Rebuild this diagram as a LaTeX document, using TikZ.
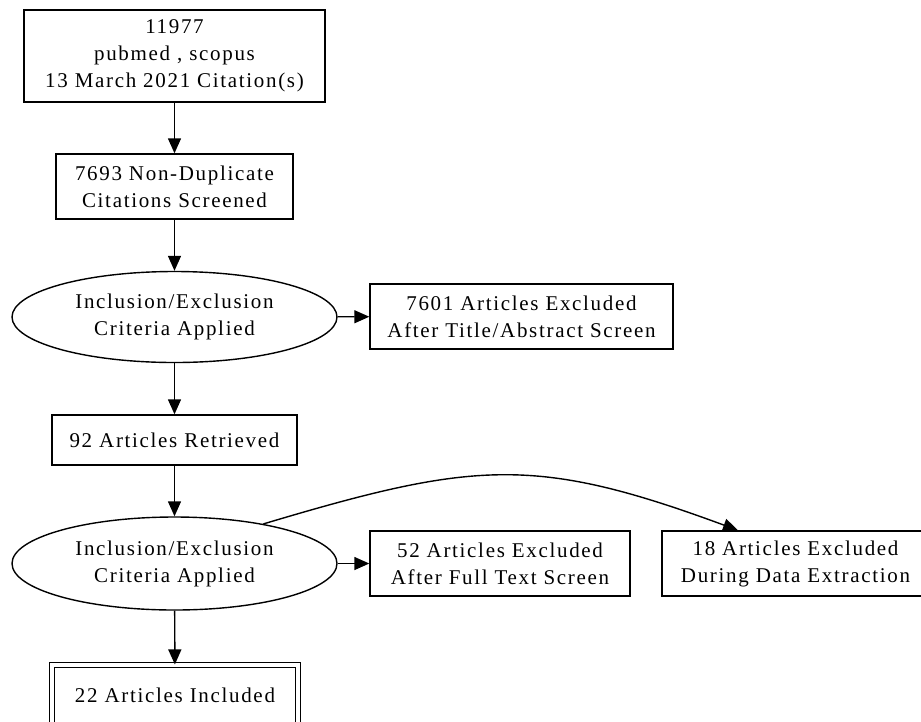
\documentclass[tikz,border=0pt]{standalone}
\usepackage{fontspec}
\setmainfont{Liberation Serif}[LetterSpace=8]
\usetikzlibrary{arrows.meta,shapes.geometric}
\begin{document}
\begin{tikzpicture}[x=1pt,y=-1pt,
  every node/.style={font=\fontsize{21}{27}\selectfont, align=center, inner sep=0pt, line width=1.4pt},
  boxnode/.style={draw, rectangle},
  ellnode/.style={draw, ellipse},
  conn/.style={line width=1.4pt, -{Triangle[length=15pt,width=13pt]}}]
\useasboundingbox (0,0) rectangle (921,721);
\node[boxnode, minimum width=301pt, minimum height=92pt] (b1) at (174.5,56) {11977\\pubmed , scopus\\13 March 2021 Citation(s)};
\node[boxnode, minimum width=237pt, minimum height=65pt] (b2) at (174.5,186.5) {7693 Non-Duplicate\\Citations Screened};
\node[ellnode, minimum width=325pt, minimum height=91pt] (e1) at (174.5,317) {Inclusion/Exclusion\\Criteria Applied};
\node[boxnode, minimum width=303pt, minimum height=65pt] (x1) at (521.5,316.5) {7601 Articles Excluded\\After Title/Abstract Screen};
\node[boxnode, minimum width=245pt, minimum height=50pt] (b3) at (174.5,440) {92 Articles Retrieved};
\node[ellnode, minimum width=325pt, minimum height=93pt] (e2) at (174.5,563.5) {Inclusion/Exclusion\\Criteria Applied};
\node[boxnode, minimum width=260pt, minimum height=65pt] (x2) at (500,563.5) {52 Articles Excluded\\After Full Text Screen};
\node[boxnode, minimum width=267pt, minimum height=65pt] (x3) at (795.5,563.5) {18 Articles Excluded\\During Data Extraction};
\node[boxnode, double, double distance=4.5pt, line width=1.1pt, minimum width=246pt, minimum height=60pt] (b4) at (175,695) {22 Articles Included};
\draw[conn] (b1) -- (b2);
\draw[conn] (b2) -- (e1);
\draw[conn] (e1) -- (x1);
\draw[conn] (e1) -- (b3);
\draw[conn] (b3) -- (e2);
\draw[conn] (e2) -- (x2);
\draw[conn] (e2) -- (b4);
\draw[conn] (e2.24) .. controls +(211,-63) and +(-203,-75) .. ([xshift=-57.5pt]x3.north);
\end{tikzpicture}
\end{document}
